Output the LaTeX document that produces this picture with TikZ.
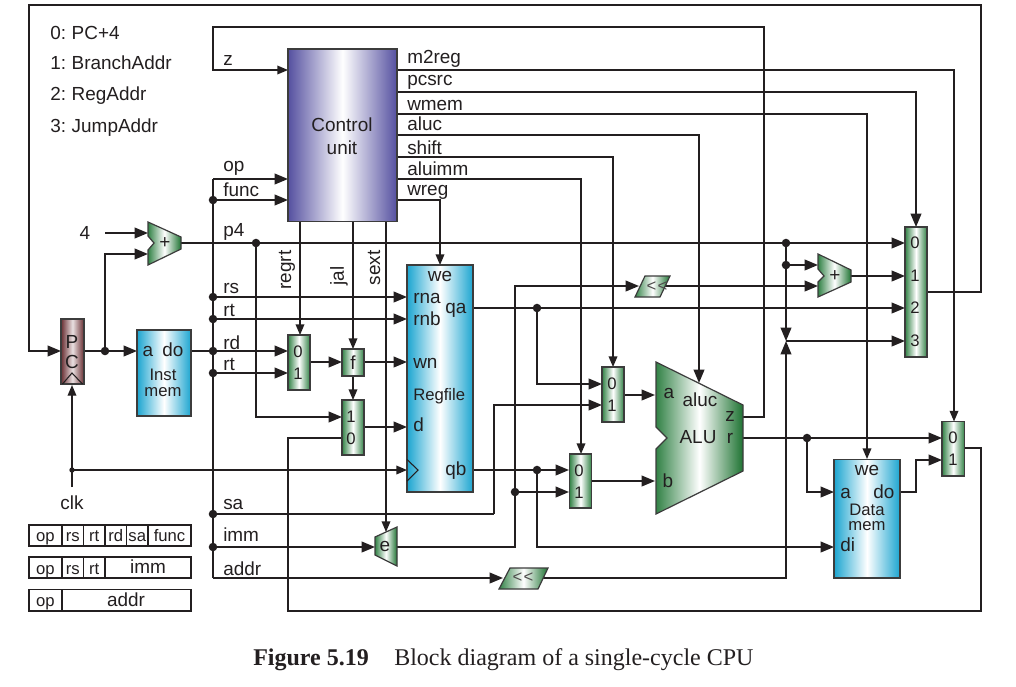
\documentclass[tikz,border=0pt]{standalone}
\usepackage{fontspec}
\setmainfont{Liberation Sans}
\newfontfamily\capfont{Liberation Serif}
\usetikzlibrary{arrows.meta,fit,calc}
\definecolor{ink}{RGB}{35,31,32}
\definecolor{grn}{RGB}{50,130,70}
\definecolor{dgrn}{RGB}{30,115,50}
\definecolor{cyn}{RGB}{28,165,208}
\definecolor{pur}{RGB}{85,80,160}
\definecolor{brn}{RGB}{105,45,50}
\definecolor{lnk}{RGB}{60,60,60}
\newcommand\fs[1]{\fontsize{#1}{#1}\selectfont}
\tikzset{
  w/.style={draw=ink,line width=1.3pt},
  c/.style={draw=ink,line width=1pt},
  big/.style={-{Triangle[length=10pt,width=8pt]}},
  mid/.style={-{Triangle[length=8pt,width=6.5pt]}},
  dot/.style={circle,fill=ink,inner sep=0pt,minimum size=6.4pt},
  sdot/.style={circle,fill=ink,inner sep=0pt,minimum size=4pt},
  txt/.style={inner sep=0pt,text=ink,font=\fs{14.2},anchor=base},
  txw/.style={txt,anchor=base west},
  small/.style={inner sep=0pt,text=ink,font=\fs{12.5},anchor=base},
  box/.style={draw=lnk,line width=1pt},
  cell/.style={draw=ink,line width=0.8pt,inner sep=0pt},
  muxb/.style={box,left color=grn,right color=grn,middle color=white},
  memb/.style={box,left color=cyn,right color=cyn,middle color=white},
  cub/.style={box,left color=pur,right color=pur,middle color=white},
  pcb/.style={box,left color=brn,right color=brn,middle color=white!85!brn},
  addb/.style={draw=lnk,line width=0.9pt,left color=grn,right color=dgrn,middle color=white},
  aluc/.style={draw=lnk,line width=0.9pt,left color=grn,right color=dgrn,middle color=white},
}
\newcommand\blk[6]{\node[fit={(#2,#3)(#4,#5)},inner sep=0pt,#6] (#1) {};}
\newcommand\lb[4][txt]{\node[#1] (#2) at (#3) {#4};}
\begin{document}
\begin{tikzpicture}[x=0.75pt,y=-0.75pt]
\useasboundingbox (0,0) rectangle (1016,686);
\fill[white] (0,0) rectangle (1016,686);

% ---- ports and bends
\coordinate (pcIn) at (61,351);
\coordinate (pcOut) at (84,351);
\coordinate (imIn) at (137,351);
\coordinate (imOut) at (191,351);
\coordinate (addAin1) at (148,233);
\coordinate (addAin2) at (148,254);
\coordinate (fourEnd) at (105,233);
\coordinate (addAout) at (181,243);
\coordinate (addBin1) at (818,265);
\coordinate (addBin2) at (818,286);
\coordinate (addBout) at (851,276);
\coordinate (shAin) at (639,286);
\coordinate (shAout) at (665,286);
\coordinate (shBin) at (503,578);
\coordinate (shBout) at (543,578);
\coordinate (npc0) at (905,243);
\coordinate (npc1) at (905,276);
\coordinate (npc2) at (905,308);
\coordinate (npc3) at (905,341);
\coordinate (npcOut) at (927,292);
\coordinate (npcSel) at (916,227);
\coordinate (cuZ) at (288,70);
\coordinate (cuOp) at (288,179);
\coordinate (cuFn) at (288,200);
\coordinate (oM2) at (397,70);
\coordinate (oPc) at (397,92);
\coordinate (oWm) at (397,114);
\coordinate (oAl) at (397,135);
\coordinate (oSh) at (397,157);
\coordinate (oIm) at (397,179);
\coordinate (oWr) at (397,200);
\coordinate (oRg) at (300,221);
\coordinate (oJa) at (353,221);
\coordinate (oSe) at (386,221);
\coordinate (rfWe) at (440,265);
\coordinate (rfRna) at (407,297);
\coordinate (rfRnb) at (407,319);
\coordinate (rfWn) at (407,362);
\coordinate (rfD) at (407,427);
\coordinate (rfClk) at (407,470);
\coordinate (rfQa) at (473,308);
\coordinate (rfQb) at (473,470);
\coordinate (aIn0) at (288,351);
\coordinate (aIn1) at (288,373);
\coordinate (aSel) at (300,335);
\coordinate (aOut) at (310,362);
\coordinate (fIn) at (342,362);
\coordinate (fOut) at (364,362);
\coordinate (fSel) at (353,349);
\coordinate (fDn) at (353,376);
\coordinate (bSel) at (353,400);
\coordinate (bIn1) at (342,417);
\coordinate (bIn0) at (342,438);
\coordinate (bOut) at (364,427);
\coordinate (cIn0) at (602,384);
\coordinate (cIn1) at (602,405);
\coordinate (cSel) at (613,367);
\coordinate (cOut) at (624,395);
\coordinate (dIn0) at (569,470);
\coordinate (dIn1) at (569,492);
\coordinate (dSel) at (581,454);
\coordinate (dOut) at (591,481);
\coordinate (aluA) at (655,395);
\coordinate (aluB) at (655,481);
\coordinate (aluTop) at (699,383);
\coordinate (aluZ) at (743,417);
\coordinate (aluR) at (743,438);
\coordinate (eIn) at (375,547);
\coordinate (eSel) at (386,532);
\coordinate (eOut) at (397,547);
\coordinate (dmA) at (834,492);
\coordinate (dmDi) at (834,547);
\coordinate (dmWe) at (867,459);
\coordinate (dmDo) at (900,492);
\coordinate (fIn0) at (942,438);
\coordinate (fIn1) at (942,460);
\coordinate (fSel2) at (954,421.5);
\coordinate (fOut2) at (965,448);
\coordinate (join) at (786,341);
\coordinate (clkEnd) at (72,487);
\coordinate (pcClk) at (72,385);

% ---- wires
\draw[w,big] (npcOut) -| (981,5) -- (29,5) |- (pcIn);
\draw[w,big] (pcOut) -- (imIn);
\draw[w,big] (105,351) |- (addAin2);
\draw[w,big] (fourEnd) -- (addAin1);
\draw[w,big] (addAout) -- (npc0);
\draw[w,big] (256,243) |- (bIn1);
\draw[w,big] (786,243) -- (join);
\draw[w,big] (786,265) -- (addBin1);
\draw[w,big] (addBout) -- (npc1);
\draw[w,big] (shAout) -- (addBin2);
\draw[w,big] (eOut) -| (515,286) -- (shAin);
\draw[w,big] (515,492) -- (dIn1);
\draw[w,big] (join) -- (npc3);
\draw[w,big] (rfQa) -- (npc2);
\draw[w,big] (537,308) |- (cIn0);
\draw[w,big] (rfQb) -- (dIn0);
\draw[w,big] (537,470) |- (dmDi);
\draw[w,big] (cOut) -- (aluA);
\draw[w,big] (dOut) -- (aluB);
\draw[w,big] (aluR) -- (fIn0);
\draw[w,big] (807,438) |- (dmA);
\draw[w,big] (dmDo) -- (916,492) |- (fIn1);
\draw[w] (fOut2) -| (981,611) -- (288,611) |- (bIn0);
\draw[c,mid] (aluZ) -| (764,27) -- (213,27) |- (cuZ);
\draw[w,big] (imOut) -- (aIn0);
\draw[w,big] (213,179) -- (cuOp);
\draw[w,big] (213,200) -- (cuFn);
\draw[w] (213,179) -- (213,578);
\draw[w,big] (213,578) -- (shBin);
\draw[w,big] (shBout) -| (join);
\draw[w,big] (213,297) -- (rfRna);
\draw[w,big] (213,319) -- (rfRnb);
\draw[w,big] (213,373) -- (aIn1);
\draw[w,big] (aOut) -- (fIn);
\draw[w,big] (fOut) -- (rfWn);
\draw[c,mid] (fDn) -- (bSel);
\draw[w,big] (bOut) -- (rfD);
\draw[w] (213,514) -- (494,514);
\draw[w,big] (494,514) |- (cIn1);
\draw[w,big] (213,547) -- (eIn);
\draw[c,mid] (oRg) -- (aSel);
\draw[c,mid] (oJa) -- (fSel);
\draw[c,mid] (oSe) -- (eSel);
\draw[c,mid] (oWr) -| (rfWe);
\draw[c,mid] (oSh) -| (cSel);
\draw[c,mid] (oIm) -| (dSel);
\draw[w,big] (oAl) -| (aluTop);
\draw[c,mid] (oWm) -| (dmWe);
\draw[w,big] (oPc) -| (npcSel);
\draw[c,mid] (oM2) -| (fSel2);
\draw[c,mid] (clkEnd) -- (pcClk);
\draw[c,mid] (72,470) -- (rfClk);

% ---- blocks
\blk{pc}{61}{319}{84}{384}{pcb}
\draw[draw=ink,line width=0.8pt] (62.5,384) -- (72,373) -- (82.5,384);
\blk{imem}{137}{330}{191}{416}{memb}
\blk{cu}{288}{49}{397}{221.5}{cub}
\blk{rf}{407}{265}{473}{492}{memb}
\draw[draw=ink,line width=0.8pt] (407,459.5) -- (418,470) -- (407,481);
\blk{dm}{834}{459.5}{900}{578}{memb}
\blk{muxA}{288}{335}{310}{390}{muxb}
\blk{muxF}{342}{349}{364}{376}{muxb}
\blk{muxB}{342}{400}{364}{455}{muxb}
\blk{muxC}{602}{367}{624}{422}{muxb}
\blk{muxD}{569.5}{454}{591.5}{508}{muxb}
\blk{muxE}{942}{421.5}{964.5}{476}{muxb}
\blk{muxP}{905}{227}{927}{357}{muxb}
% polygons
\path[addb] (148,222) -- (181,237) -- (181,249) -- (148,265) -- (148,250) -- (154,243) -- (148,236) -- cycle;
\path[addb] (818,254) -- (851,270) -- (851,282) -- (818,297) -- (818,282) -- (824,276) -- (818,269) -- cycle;
\path[aluc] (656,362) -- (743,405) -- (743,471) -- (656,514) -- (656,449) -- (667,438) -- (656,427) -- cycle;
\path[addb] (375,537) -- (397,527) -- (397,566) -- (375,555) -- cycle;
\path[addb] (645,276) -- (670,276) -- (660,297) -- (635,297) -- cycle;
\path[addb] (510,568) -- (548,568) -- (538,589) -- (499,589) -- cycle;

% ---- dots
\foreach \n/\p in {d1/{105,351},d2/{256,243},d3/{786,243},d4/{786,265},d5/{213,200},d6/{213,297},d7/{213,319},d8/{213,351},d9/{213,373},d10/{213,514},d11/{213,547},d12/{537,308},d13/{537,470},d14/{515,492},d15/{807,438}}
  \node[dot] (\n) at (\p) {};
\node[sdot] (d16) at (72,470) {};

% ---- labels
\lb[txw]{k0}{50,39}{0:\kern-1pt{} PC+4}
\lb[txw]{k1}{50,69.5}{1:\kern-1pt{} BranchAddr}
\lb[txw]{k2}{50,100}{2:\kern-1pt{} RegAddr}
\lb[txw]{k3}{50,132.5}{3:\kern-1pt{} JumpAddr}
\lb{n4}{85,239.5}{4}
\lb[txw]{nz}{223,65.5}{z}
\lb[txw]{nop}{223,171.5}{op}
\lb[txw]{nfn}{223,196}{func}
\lb[txw]{np4}{223,236.5}{p4}
\lb[txw]{nrs}{223,293}{rs}
\lb[txw]{nrt}{223,316.5}{rt}
\lb[txw]{nrd}{223,349}{rd}
\lb[txw]{nrt2}{223,370.5}{rt}
\lb[txw]{nsa}{223,509}{sa}
\lb[txw]{nim}{223,541.5}{imm}
\lb[txw]{nad}{223,575}{addr}
\node[txt,anchor=center,rotate=90] (nreg) at (287,270) {regrt};
\node[txt,anchor=center,rotate=90] (njal) at (339,276) {jal};
\node[txt,anchor=center,rotate=90] (nsext) at (374,268) {sext};
\lb[txw]{nm2}{407,63.5}{m2reg}
\lb[txw]{npc}{407,85}{pcsrc}
\lb[txw]{nwm}{407,110}{wmem}
\lb[txw]{nal}{407,130.5}{aluc}
\lb[txw]{nsh}{407,154}{shift}
\lb[txw]{nai}{407,175}{aluimm}
\lb[txw]{nwr}{407,195}{wreg}
\lb{ncu1}{342,131}{Control}
\lb{ncu2}{342,154}{unit}
\lb{tP}{72,348.5}{P}
\lb{tC}{72,368.5}{C}
\lb{ta}{148,356.5}{a}
\lb{tdo}{173,356.5}{do}
\lb[small]{tim1}{163,380}{Inst}
\lb[small]{tim2}{163,396}{mem}
\node[txt,anchor=center] (tplus) at (165,243) {+};
\node[txt,anchor=center] (tplus2) at (835,276) {+};
\lb{rwe}{440,281.5}{we}
\lb[txw]{rna}{413,303}{rna}
\lb[txw]{rnb}{413,325}{rnb}
\lb[txw]{rqa}{445,313}{qa}
\lb[txw]{rwn}{413,368}{wn}
\node[small,anchor=base west] (rre) at (413,400) {Regfile};
\lb[txw]{rd}{413,431.5}{d}
\lb[txw]{rqb}{445,475.5}{qb}
\foreach \n/\p/\t in {a0/{298,357}/0,a1/{298,379}/1,b1/{351,422}/1,b0/{351,444.5}/0,c0/{612,389}/0,c1/{612,411}/1,d0/{579,476}/0,d1t/{579,498}/1,e0/{953,443.5}/0,e1/{953,465}/1,p0/{915,248.5}/0,p1/{915,281.5}/1,p2/{915,313.5}/2,p3/{915,346}/3}
  \node[small] (\n) at (\p) {\t};
\lb{tf}{353,369}{f}
\lb{te}{385,551.5}{e}
\node[inner sep=0pt,text=ink!80,font=\fs{12.5}] (ss1) at (657,287) {<\kern1pt<};
\node[inner sep=0pt,text=ink!80,font=\fs{12.5}] (ss2) at (523,578) {<\kern1pt<};
\lb{ua}{669,398}{a}
\lb{ub}{668,487}{b}
\lb{ual}{700,406}{aluc}
\lb{uu}{698,443}{ALU}
\lb{uz}{730,421.5}{z}
\lb{ur}{730,443}{r}
\lb{mwe}{867,475.5}{we}
\lb[txw]{ma}{840,498}{a}
\lb[txw]{mdo}{873,498}{do}
\lb[small]{mdm1}{867,515}{Data}
\lb[small]{mdm2}{867,530.5}{mem}
\lb[txw]{mdi}{840,551.5}{di}
\lb{clk}{72,509}{clk}

% ---- instruction formats
\foreach \n/\a/\b/\t in {f1/29/62/op,f2/62/83.5/rs,f3/83.5/105/rt,f4/105/126.5/rd,f5/126.5/148/sa,f6/148/191/func}{
  \node[fit={(\a,525)(\b,546)},cell] (\n) {};
  \node[small] (\n t) at ({(\a+\b)/2},541.5) {\t};
}
\foreach \n/\a/\b/\t in {g1/29/62/op,g2/62/83.5/rs,g3/83.5/105/rt}{
  \node[fit={(\a,557)(\b,578)},cell] (\n) {};
  \node[small] (\n t) at ({(\a+\b)/2},574) {\t};
}
\node[fit={(105,557)(191,578)},cell] (g4) {};
\node[txt] (g4t) at (148,573.5) {imm};
\node[fit={(29,589.5)(62,611)},cell] (h1) {};
\node[small] (h1t) at (45.5,606.5) {op};
\node[fit={(62,589.5)(191,611)},cell] (h2) {};
\node[txt] (h2t) at (126,606.5) {addr};

% ---- caption
\node[inner sep=0pt,anchor=base west,text=ink,font=\capfont\fs{18}\bfseries] (cap1) at (253,665) {Figure 5.19};
\node[inner sep=0pt,anchor=base west,text=ink,font=\capfont\fs{18}] (cap2) at (394,665) {Block diagram of a single-cycle CPU};
\end{tikzpicture}
\end{document}
